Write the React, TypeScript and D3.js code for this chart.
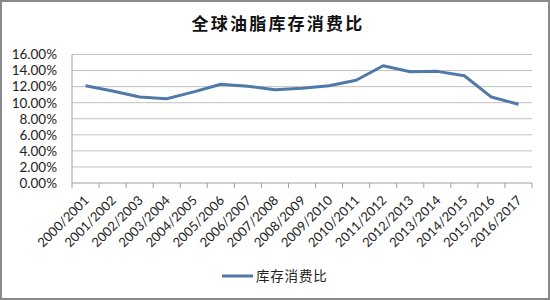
import React from "react";
import * as d3 from "d3";

const title = "全球油脂库存消费比";
const seriesName = "库存消费比";
const categories = [
  "2000/2001", "2001/2002", "2002/2003", "2003/2004", "2004/2005", "2005/2006",
  "2006/2007", "2007/2008", "2008/2009", "2009/2010", "2010/2011", "2011/2012",
  "2012/2013", "2013/2014", "2014/2015", "2015/2016", "2016/2017",
];
const values = [
  0.121, 0.1145, 0.107, 0.105, 0.1135, 0.123, 0.1205, 0.116, 0.118, 0.121,
  0.128, 0.146, 0.1385, 0.139, 0.1335, 0.107, 0.098,
];
const yTicks = [0, 0.02, 0.04, 0.06, 0.08, 0.1, 0.12, 0.14, 0.16];

export default function App() {
  const W = 550, H = 300;
  const left = 72, right = 532, top = 54.5, bottom = 183;
  const x = d3.scaleBand<string>().domain(categories).range([left, right]);
  const y = d3.scaleLinear().domain([0, 0.16]).range([bottom, top]);
  const line = d3
    .line<number>()
    .x((_, i) => (x(categories[i]) as number) + x.bandwidth() / 2)
    .y((d) => y(d));
  const fmt = d3.format(".2%");
  const lineColor = "#4f7aa8";
  return (
    <svg
      width={W}
      height={H}
      style={{ position: "absolute", left: 0, top: 0, background: "#fff" }}
    >
      <rect x={1} y={1} width={W - 2} height={H - 2} fill="#fff" stroke="#8a8a8a" strokeWidth={2} />
      <text
        x={278}
        y={30}
        textAnchor="middle"
        fontFamily="'Noto Sans CJK SC'"
        fontWeight="bold"
        fontSize={17}
        letterSpacing={2.2}
        fill="#111"
      >
        {title}
      </text>
      {yTicks.map((t) => (
        <g key={t}>
          {t > 0 && (
            <line x1={left} x2={right} y1={y(t)} y2={y(t)} stroke="#c0c0c0" strokeWidth={1} />
          )}
          <text
            x={57}
            y={y(t)}
            dy="0.36em"
            textAnchor="end"
            fontFamily="Lato"
            fontSize={13.5}
            fill="#222"
          >
            {fmt(t)}
          </text>
        </g>
      ))}
      <line x1={left} x2={left} y1={top} y2={bottom} stroke="#a0a0a0" />
      <line x1={left} x2={right} y1={bottom} y2={bottom} stroke="#a0a0a0" />
      {[...categories.map((c) => x(c) as number), right].map((px, i) => (
        <line key={i} x1={px} x2={px} y1={bottom} y2={bottom + 5} stroke="#a0a0a0" />
      ))}
      {categories.map((c) => {
        const cx = (x(c) as number) + x.bandwidth() / 2 + 1;
        const cy = bottom + 15;
        return (
          <text
            key={c}
            transform={`translate(${cx},${cy}) rotate(-45)`}
            textAnchor="end"
            dy="0.35em"
            fontFamily="Lato"
            fontSize={13}
            fill="#222"
          >
            {c}
          </text>
        );
      })}
      <path d={line(values) || ""} fill="none" stroke={lineColor} strokeWidth={3} strokeLinejoin="round" />
      <line x1={222} x2={253} y1={276} y2={276} stroke={lineColor} strokeWidth={3} />
      <text
        x={256}
        y={276}
        dy="0.36em"
        fontFamily="'Noto Sans CJK SC'"
        fontSize={13.5}
        letterSpacing={0.8}
        fill="#222"
      >
        {seriesName}
      </text>
    </svg>
  );
}
